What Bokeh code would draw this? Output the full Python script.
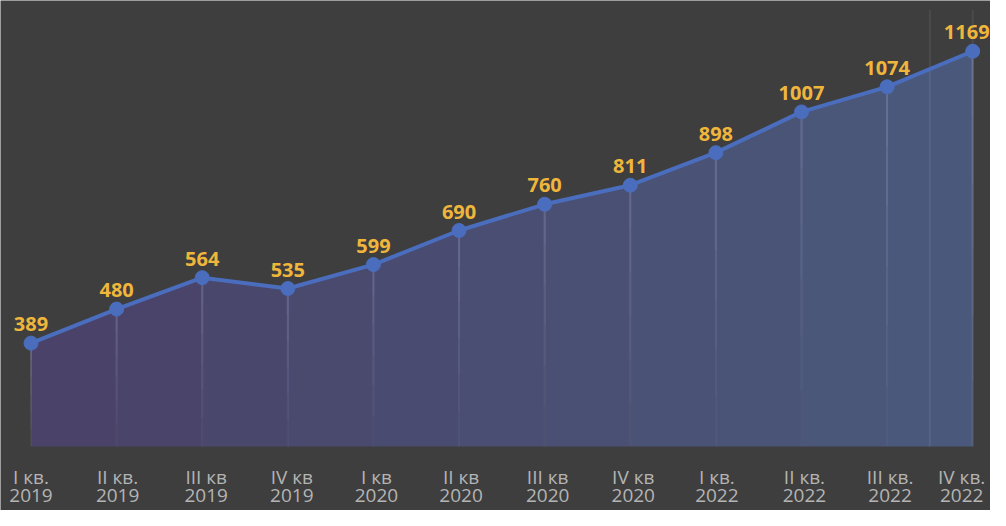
from bokeh.plotting import figure
from bokeh.models import ColumnDataSource, Range1d
from bokeh.core.properties import value
from bokeh.embed import file_html
from bokeh.resources import INLINE

# ---- data ----
quarters = ["I кв.", "II кв.", "III кв", "IV кв", "I кв", "II кв", "III кв", "IV кв",
            "I кв.", "II кв.", "III кв.", "IV кв."]
years = ["2019", "2019", "2019", "2019", "2020", "2020", "2020", "2020",
         "2022", "2022", "2022", "2022"]
values = [389, 480, 564, 535, 599, 690, 760, 811, 898, 1007, 1074, 1169]

idx = list(range(len(values)))
BG = "#3e3e3e"
LINE = "#4a6dbd"
BASE = 112.7
TOP = 1279

p = figure(width=990, height=510, output_backend="svg", toolbar_location=None,
           x_range=Range1d(-0.3563, 11.208), y_range=Range1d(-58.3, 1304.7),
           min_border=0, min_border_left=0, min_border_right=0,
           min_border_top=0, min_border_bottom=0)
p.background_fill_color = BG
p.border_fill_color = BG
p.outline_line_color = None
p.xaxis.visible = False
p.yaxis.visible = False
p.grid.visible = False


def mix(c1, c2, t):
    a = [int(c1[i:i + 2], 16) for i in (1, 3, 5)]
    b = [int(c2[i:i + 2], 16) for i in (1, 3, 5)]
    return "#" + "".join("%02x" % round(a[k] + (b[k] - a[k]) * t) for k in range(3))


# gradient area, one strip per segment
n = len(values) - 1
for i in range(n):
    p.varea(x=[idx[i], idx[i + 1]], y1=[BASE, BASE], y2=[values[i], values[i + 1]],
            fill_color=mix("#4a4168", "#4a5a7c", (i + 0.5) / n), fill_alpha=1.0)

# faint guide lines at the right (hover band edge)
last = idx[-1]
p.segment(x0=[last - 0.5, last], y0=[BASE, BASE], x1=[last - 0.5, last], y1=[TOP, TOP],
          line_color="#ffffff", line_alpha=0.07, line_width=2)

# fading drop lines from each point
steps = 6
for k in range(steps):
    y0 = [v - (v - BASE) * k / steps for v in values]
    y1 = [v - (v - BASE) * (k + 1) / steps for v in values]
    p.segment(x0=idx, y0=y0, x1=idx, y1=y1, line_color="#a0a0d0",
              line_alpha=0.30 * (1 - k / steps) + 0.03, line_width=2)

nn = len(values)
src = ColumnDataSource(dict(x=idx, v=values, lab=[str(v) for v in values],
                            q=quarters, yr=years, base=[BASE] * nn,
                            xo=[0, 1, 4, 4, 3, 2, 3, 3, 1, 3, 3, -11],
                            xo2=[0] * (nn - 1) + [-6]))

p.line("x", "v", source=src, line_color=LINE, line_width=4)
p.scatter("x", "v", source=src, size=14, fill_color=LINE, line_color=LINE)

p.text("x", "v", text="lab", source=src, x_offset="xo2", y_offset=-19,
       text_align="center", text_baseline="alphabetic",
       text_color="#f0b63c", text_font=value("Open Sans"), text_font_size="20px",
       text_font_style="bold")

p.text("x", "base", text="q", source=src, x_offset="xo", y_offset=17,
       text_align="center", text_baseline="top",
       text_color="#b4b4b4", text_font=value("Open Sans"), text_font_size="19px")
p.text("x", "base", text="yr", source=src, x_offset="xo", y_offset=42,
       text_align="center", text_baseline="top",
       text_color="#b4b4b4", text_font=value("Open Sans"), text_font_size="19px")

open("out.html", "w").write(file_html(p, INLINE))
